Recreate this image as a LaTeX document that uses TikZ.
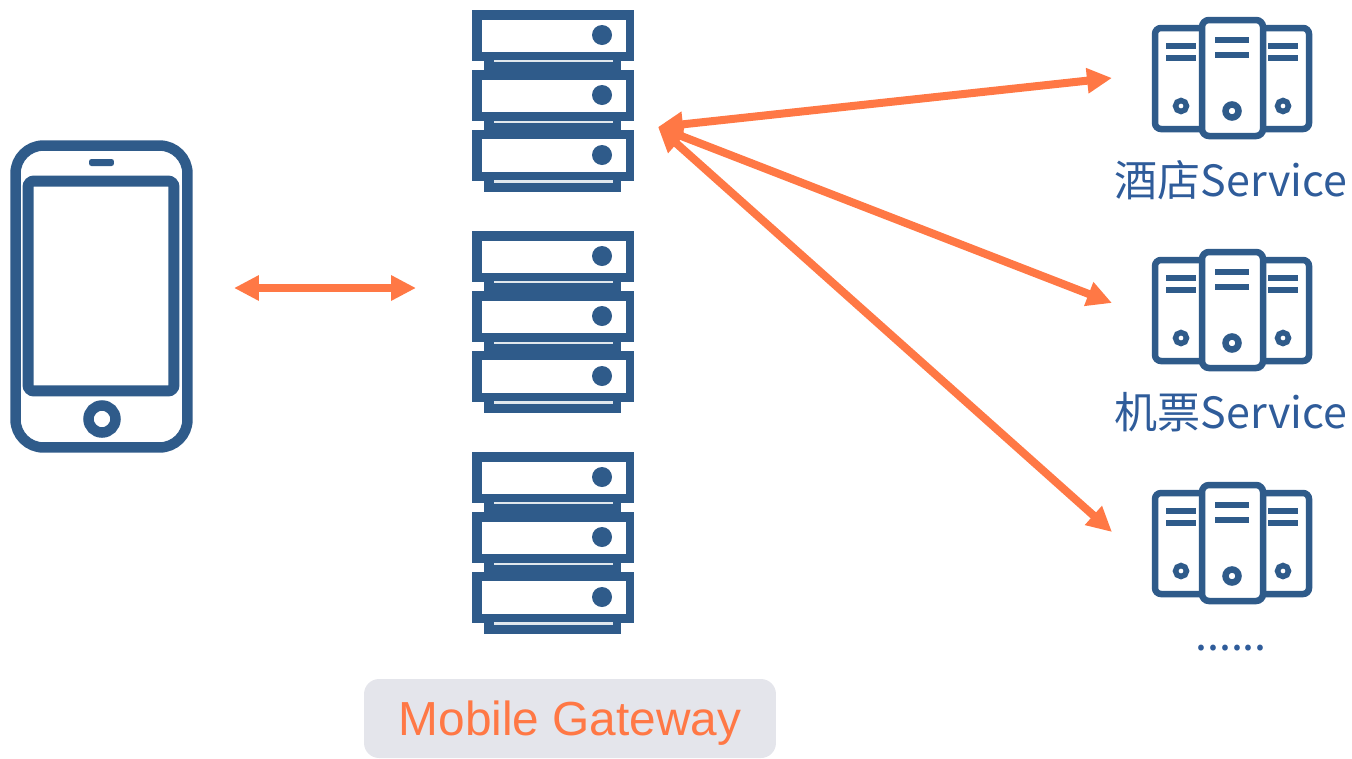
\documentclass[tikz,border=0pt]{standalone}
\usepackage{fontspec}
\setmainfont{Noto Sans CJK SC}
\newfontfamily\gatewayfont{Liberation Sans}
\usepackage{xcolor}
\usetikzlibrary{arrows.meta}
\definecolor{icondark}{HTML}{2F5B8A}
\definecolor{labelblue}{HTML}{2F5C9A}
\definecolor{flowcolor}{HTML}{FF7845}
\definecolor{gatewaybg}{HTML}{E4E5EB}
\tikzset{
    iconframe/.style={draw=icondark,fill=white,inner sep=0pt,outer sep=0pt},
    iconspot/.style={minimum width=#1,minimum height=#1,inner sep=0pt,outer sep=0pt},
    flowline/.style={draw=flowcolor,line width=0.16cm,{Triangle[length=0.5cm,width=0.48cm]}-{Triangle[length=0.5cm,width=0.48cm]}},
    svclabel/.style={text=labelblue,font=\fontsize{24.5}{30}\selectfont,inner sep=0pt},
    rackicon/.pic={
        \fill[icondark] (-81,-91) rectangle (81,91);
        \foreach \top/\bot in {-81/-49,-21/11,38/71}
            \fill[white] (-71,\top) rectangle (73,\bot);
        \foreach \top/\bot in {-40/-31,20/29,80/92} {
            \fill[white] (-82,\top) rectangle (-69,\bot);
            \fill[white] (68,\top) rectangle (82,\bot);
        }
        \foreach \top/\bot in {-41/-39,20/22,79/82}
            \fill[white!85!icondark] (-59,\top) rectangle (60,\bot);
        \foreach \y in {-66,-6,54}
            \fill[icondark] (49,\y) circle (10);
    },
    servericon/.pic={
        \draw[icondark,fill=white,line width=0.13cm,rounded corners=0.12cm] (-77,-50) rectangle (77,51);
        \draw[icondark,fill=white,line width=0.13cm,rounded corners=0.14cm] (-30,-58) rectangle (31,58);
        \foreach \x/\y in {-66/-35,-66/-23,36/-35,36/-23}
            \fill[icondark] (\x,\y) rectangle ++(30,6);
        \foreach \y in {-41,-26}
            \fill[icondark] (-17,\y) rectangle ++(34,6);
        \draw[icondark,line width=0.11cm] (-51,28) circle (5.5);
        \draw[icondark,line width=0.11cm] (51,28) circle (5.5);
        \draw[icondark,line width=0.13cm] (0,33) circle (6.5);
    }
}
\begin{document}
\begin{tikzpicture}[x=0.02cm,y=-0.02cm]
    \useasboundingbox (0,0) rectangle (1352,758);
    % phone
    \node[iconframe,line width=0.21cm,rounded corners=0.56cm,minimum width=3.44cm,minimum height=6.04cm] (phone) at (101.5,296.5) {};
    \node[iconframe,line width=0.22cm,rounded corners=0.12cm,minimum width=2.92cm,minimum height=4.2cm] (screen) at (101,286) {};
    \node[fill=icondark,rounded corners=0.05cm,minimum width=0.5cm,minimum height=0.14cm,inner sep=0pt] (speaker) at (101.5,162.5) {};
    \node[circle,draw=icondark,line width=0.21cm,minimum size=0.54cm,inner sep=0pt] (homekey) at (102,419) {};
    % gateway racks
    \foreach \name/\y in {rackA/101,rackB/322,rackC/543} {
        \node[iconspot=3.24cm] (\name) at (553,\y) {};
        \pic at (\name) {rackicon};
    }
    % services
    \foreach \name/\y in {svcA/78,svcB/310,svcC/543} {
        \node[iconspot=3.2cm] (\name) at (1232,\y) {};
        \pic at (\name) {servericon};
    }
    \node[svclabel] (hotel) at (1231,180) {酒店Service};
    \node[svclabel] (flight) at (1231,412) {机票Service};
    \node[svclabel,anchor=base] (more) at (1231,650) {......};
    \node[fill=gatewaybg,rounded corners=0.3cm,minimum width=8.24cm,text height=1.12cm,text depth=0.46cm,inner xsep=0pt,inner ysep=0pt,text=flowcolor,font=\gatewayfont\fontsize{27.2}{32}\selectfont] (gateway) at (570,718.5) {Mobile Gateway};
    % connector ends
    \coordinate (phoneport) at (234,288);
    \coordinate (rackport) at (416,288);
    \coordinate (hub) at (658,127);
    \coordinate (hotelport) at (1112,78);
    \coordinate (flightport) at (1112,303);
    \coordinate (moreport) at (1112,532);
    \draw[flowline] (phoneport) -- (rackport);
    \draw[flowline] (hub) -- (hotelport);
    \draw[flowline] (hub) -- (flightport);
    \draw[flowline] (hub) -- (moreport);
\end{tikzpicture}
\end{document}
